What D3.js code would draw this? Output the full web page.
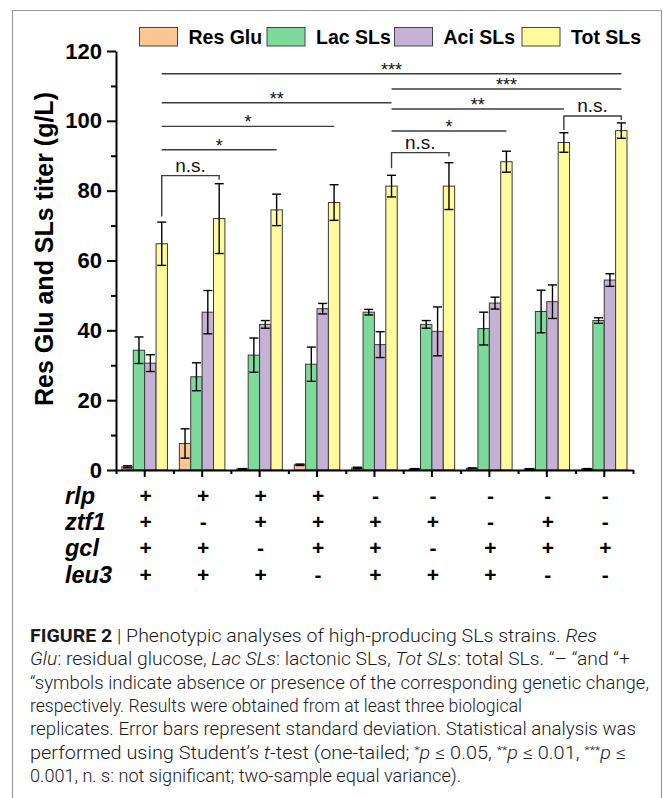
<!DOCTYPE html>
<html>
<head>
<meta charset="utf-8">
<script src="https://cdn.jsdelivr.net/npm/d3@7"></script>
<style>
  body { margin: 0; background: #fff; }
  svg { display: block; font-family: "Liberation Sans", Arial, sans-serif; }
</style>
</head>
<body>
<svg width="663" height="798"></svg>
<script>
// series + values (g/L)
var series = ['Res Glu', 'Lac SLs', 'Aci SLs', 'Tot SLs'];
var resGlu   = [0.9, 7.6, 0.3, 1.5, 0.6, 0.3, 0.5, 0.3, 0.3];
var resGluSd = [0.3, 4.2, 0.1, 0.2, 0.2, 0.1, 0.1, 0.1, 0.1];
var lacSLs   = [34.3, 26.7, 32.9, 30.3, 45.2, 41.7, 40.5, 45.4, 42.8];
var lacSd    = [3.8, 4.0, 4.9, 4.9, 0.8, 1.1, 4.7, 6.1, 0.8];
var aciSLs   = [30.6, 45.2, 41.7, 46.2, 35.9, 39.7, 47.8, 48.2, 54.4];
var aciSd    = [2.4, 6.2, 1.1, 1.5, 3.7, 7.0, 1.7, 4.8, 1.8];
var totSLs   = [64.8, 72.0, 74.5, 76.6, 81.3, 81.3, 88.3, 93.8, 97.2];
var totSd    = [6.2, 10.0, 4.5, 5.1, 3.1, 6.7, 3.0, 2.8, 2.2];

// genotype table under the x axis
var genes = ['rlp', 'ztf1', 'gcl', 'leu3'];
var rlp  = ['+', '+', '+', '+', '-', '-', '-', '-', '-'];
var ztf1 = ['+', '-', '+', '+', '+', '+', '-', '+', '-'];
var gcl  = ['+', '+', '-', '+', '+', '-', '+', '+', '+'];
var leu3 = ['+', '+', '+', '-', '+', '+', '+', '-', '-'];

var yTicks = [0, 20, 40, 60, 80, 100, 120];
var yMinor = [10, 30, 50, 70, 90, 110];

// significance comparisons between Tot SLs bars
var compFrom  = [0, 0, 0, 0, 0, 4, 4, 4, 4, 7];
var compTo    = [1, 2, 3, 4, 8, 5, 6, 7, 8, 8];
var compLabel = ['n.s.', '*', '*', '**', '***', 'n.s.', '*', '**', '***', 'n.s.'];
var compLevel = [84.3, 91.7, 98.4, 105.2, 113.5, 90.9, 97.1, 103.4, 109.1, 101.4];
var compLeg   = [72.6, null, null, null, null, 86.4, null, null, null, 97.4];

var colors = ['#fdc592', '#7dda9a', '#c5b0d6', '#fffa9c'];

var svg = d3.select('svg');
var vals = [resGlu, lacSLs, aciSLs, totSLs];
var sds = [resGluSd, lacSd, aciSd, totSd];
var groups = d3.range(totSLs.length);

// frame
svg.append('path')
  .attr('d', 'M12.5,798V10.5H661.5V798')
  .attr('fill', 'none')
  .attr('stroke', '#9a9a9a')
  .attr('stroke-width', 1.2);

var y = d3.scaleLinear().domain([0, 120]).range([470, 51]);
var x0 = d3.scaleBand().domain(groups).range([116, 633]);
var x1 = d3.scaleBand().domain(series).range([5.9, x0.bandwidth() - 6]);
var edges = d3.scaleLinear().domain([0, groups.length]).range([116, 633]);

// bars
var bars = [];
groups.forEach(g => series.forEach((s, k) => bars.push({g: g, s: s, k: k, v: vals[k][g], sd: sds[k][g]})));

svg.append('g')
  .selectAll('rect')
  .data(bars)
  .enter()
  .append('rect')
    .attr('x', d => x0(d.g) + x1(d.s))
    .attr('y', d => y(d.v))
    .attr('width', x1.bandwidth())
    .attr('height', d => y(0) - y(d.v))
    .attr('fill', d => colors[d.k])
    .attr('stroke', '#3a3a3a')
    .attr('stroke-width', 1);

// error bars
var err = svg.append('g')
  .attr('stroke', '#000')
  .attr('stroke-width', 1.4)
  .selectAll('g')
  .data(bars)
  .enter()
  .append('g')
    .attr('transform', d => 'translate(' + (x0(d.g) + x1(d.s) + x1.bandwidth() / 2) + ',0)');
err.append('line')
  .attr('y1', d => y(Math.max(0, d.v - d.sd)))
  .attr('y2', d => y(d.v + d.sd));
err.append('line')
  .attr('x1', -4.5).attr('x2', 4.5)
  .attr('y1', d => y(d.v + d.sd)).attr('y2', d => y(d.v + d.sd));
err.append('line')
  .attr('x1', -4.5).attr('x2', 4.5)
  .attr('y1', d => y(Math.max(0, d.v - d.sd))).attr('y2', d => y(Math.max(0, d.v - d.sd)));

// y axis
var yAxis = svg.append('g')
  .attr('transform', 'translate(116,0)')
  .call(d3.axisLeft(y).tickValues(yTicks).tickSize(9).tickSizeOuter(0).tickPadding(5));
svg.append('g')
  .attr('transform', 'translate(116,0)')
  .call(d3.axisLeft(y).tickValues(yMinor).tickSize(5).tickSizeOuter(0).tickFormat(''))
  .select('.domain').remove();
yAxis.select('.domain').attr('stroke-width', 2);
yAxis.selectAll('text')
  .attr('font-size', 22)
  .attr('font-weight', 'bold')
  .attr('fill', '#000')
  .attr('font-family', '"Liberation Sans", Arial, sans-serif');
svg.selectAll('.tick line').attr('stroke-width', 2);

// x axis
var xAxis = svg.append('g')
  .attr('transform', 'translate(0,470)')
  .call(d3.axisBottom(x0).tickSize(7).tickSizeOuter(0).tickFormat(''));
xAxis.select('.domain').attr('stroke-width', 2);
xAxis.selectAll('.tick line').attr('stroke-width', 2);
svg.append('g')
  .attr('transform', 'translate(0,470)')
  .call(d3.axisBottom(edges).tickValues(d3.range(groups.length + 1)).tickSize(4).tickFormat(''))
  .call(g => g.select('.domain').remove())
  .selectAll('.tick line').attr('stroke-width', 2);

// y title
svg.append('text')
  .attr('transform', 'translate(53,249) rotate(-90)')
  .attr('text-anchor', 'middle')
  .attr('font-size', 25)
  .attr('font-weight', 'bold')
  .text('Res Glu and SLs titer (g/L)');

// legend
var legend = svg.append('g')
  .selectAll('g')
  .data(series)
  .enter()
  .append('g')
    .attr('transform', (d, i) => 'translate(' + (139.5 + i * 127.5) + ',27.5)');
legend.append('rect')
  .attr('width', 38)
  .attr('height', 18.5)
  .attr('fill', (d, i) => colors[i])
  .attr('stroke', '#444')
  .attr('stroke-width', 1);
legend.append('text')
  .attr('x', 49)
  .attr('y', 16.5)
  .attr('font-size', 19.5)
  .attr('font-weight', 'bold')
  .text(d => d);

// significance brackets
var totX = g => x0(g) + x1('Tot SLs') + x1.bandwidth() / 2;
var comps = compFrom.map((a, i) => ({a: a, b: compTo[i], lab: compLabel[i], lvl: compLevel[i], leg: compLeg[i]}));
var sig = svg.append('g')
  .selectAll('g')
  .data(comps)
  .enter()
  .append('g');
sig.append('path')
  .attr('d', d => {
    var yy = y(d.lvl);
    if (d.leg == null) return 'M' + totX(d.a) + ',' + yy + 'H' + totX(d.b);
    return 'M' + totX(d.a) + ',' + y(d.leg) + 'V' + yy + 'H' + totX(d.b) + 'v4';
  })
  .attr('fill', 'none')
  .attr('stroke', '#3c3c3c')
  .attr('stroke-width', 1.4);
sig.append('text')
  .attr('x', d => (totX(d.a) + totX(d.b)) / 2)
  .attr('y', d => d.lab == 'n.s.' ? y(d.lvl) - 4 : y(d.lvl) + 2)
  .attr('text-anchor', 'middle')
  .attr('font-size', d => d.lab == 'n.s.' ? 19 : 18)
  .attr('fill', '#111')
  .text(d => d.lab);

// genotype table
var table = [rlp, ztf1, gcl, leu3];
var rowY = [496, 522, 548, 575];
genes.forEach((gname, r) => {
  svg.append('text')
    .attr('x', 65)
    .attr('y', rowY[r] + 8)
    .attr('font-size', 23.5)
    .attr('font-weight', 'bold')
    .attr('font-style', 'italic')
    .text(gname);
  svg.append('g')
    .selectAll('text')
    .data(table[r])
    .enter()
    .append('text')
      .attr('x', (d, i) => x0(i) + x0.bandwidth() / 2 + 1)
      .attr('y', rowY[r] + 7)
      .attr('text-anchor', 'middle')
      .attr('font-size', 21)
      .attr('font-weight', 'bold')
      .text(d => d);
});

// caption
var caption = [
  [['b', 'FIGURE 2'], ['n', ' | Phenotypic analyses of high-producing SLs strains. '], ['i', 'Res']],
  [['i', 'Glu'], ['n', ': residual glucose, '], ['i', 'Lac SLs'], ['n', ': lactonic SLs, '], ['i', 'Tot SLs'], ['n', ': total SLs. \u201c\u2013 \u201cand \u201c+']],
  [['n', '\u201csymbols indicate absence or presence of the corresponding genetic change,']],
  [['n', 'respectively. Results were obtained from at least three biological']],
  [['n', 'replicates. Error bars represent standard deviation. Statistical analysis was']],
  [['n', 'performed using Student\u2019s '], ['i', 't'], ['n', '-test (one-tailed; '], ['s', '*'], ['i', 'p'], ['n', ' \u2264 0.05, '],
   ['s', '**'], ['i', 'p'], ['n', ' \u2264 0.01, '], ['s', '***'], ['i', 'p'], ['n', ' \u2264']],
  [['n', '0.001, n. s: not significant; two-sample equal variance).']]
];
var captionEnd = [597, 630, 649, 522, 636, 626, 461];

caption.forEach((line, li) => {
  var t = svg.append('text')
    .attr('x', 30)
    .attr('y', 642 + li * 23.3)
    .attr('font-family', 'Roboto, "Liberation Sans", sans-serif')
    .attr('font-weight', 300)
    .attr('font-size', 17.5)
    .attr('fill', '#1a1a1a')
    .attr('textLength', captionEnd[li] - 30)
    .attr('lengthAdjust', 'spacingAndGlyphs');
  line.forEach(seg => {
    var sp = t.append('tspan').text(seg[1]);
    if (seg[0] == 'b') sp.attr('font-weight', 700);
    if (seg[0] == 'i') sp.attr('font-style', 'italic');
    if (seg[0] == 's') sp.attr('font-size', 11).attr('baseline-shift', '5');
  });
});
</script>
</body>
</html>
